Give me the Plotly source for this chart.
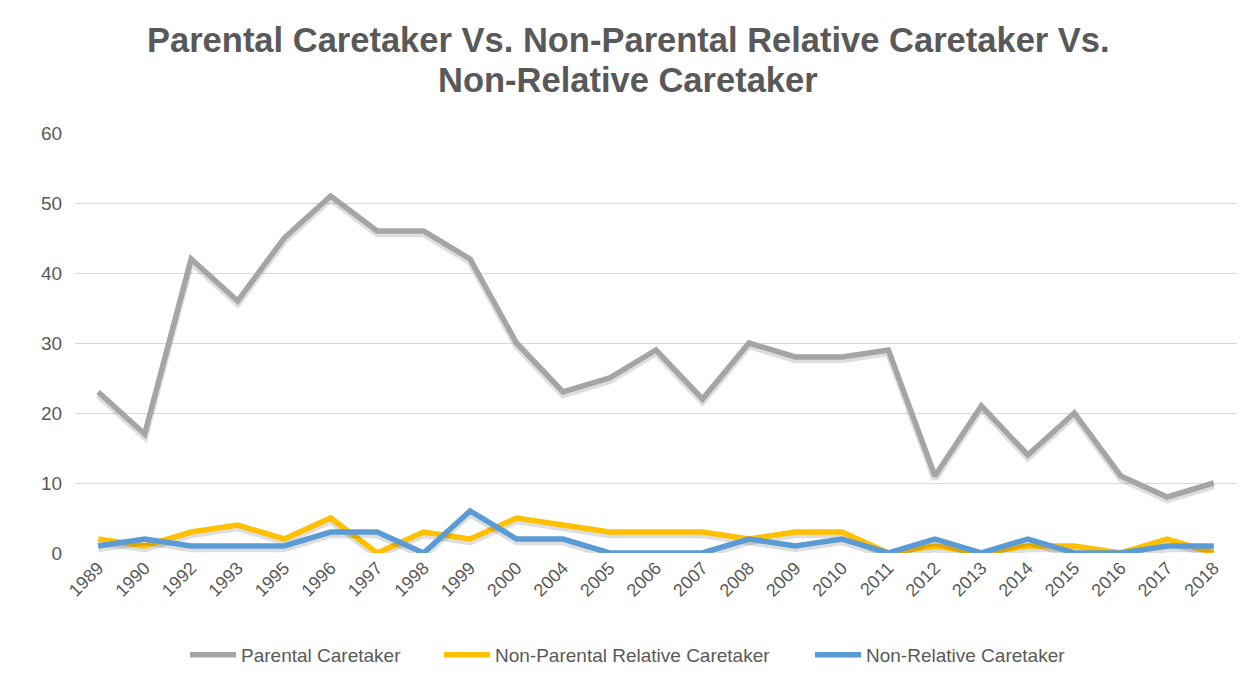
import plotly.graph_objects as go

years = ["1989","1990","1992","1993","1995","1996","1997","1998","1999","2000",
         "2004","2005","2006","2007","2008","2009","2010","2011","2012","2013",
         "2014","2015","2016","2017","2018"]
parental = [23,17,42,36,45,51,46,46,42,30,23,25,29,22,30,28,28,29,11,21,14,20,11,8,10]
non_parental_relative = [2,1,3,4,2,5,0,3,2,5,4,3,3,3,2,3,3,0,1,0,1,1,0,2,0]
non_relative = [1,2,1,1,1,3,3,0,6,2,2,0,0,0,2,1,2,0,2,0,2,0,0,1,1]

series = [
    ("Parental Caretaker", parental, "#A5A5A5", "legend"),
    ("Non-Parental Relative Caretaker", non_parental_relative, "#FFC000", "legend2"),
    ("Non-Relative Caretaker", non_relative, "#5B9BD5", "legend3"),
]

fig = go.Figure()
for name, vals, col, lg in series:
    # soft drop shadow beneath each line
    fig.add_trace(go.Scatter(x=years, y=[v - 0.4 for v in vals], mode="lines",
                             line=dict(color="rgba(0,0,0,0.13)", width=7),
                             showlegend=False, hoverinfo="skip", cliponaxis=False))
    fig.add_trace(go.Scatter(x=years, y=vals, name=name, mode="lines",
                             line=dict(color=col, width=5.5), legend=lg,
                             cliponaxis=False))

W, H = 1247, 680
PL, PW = 75, 1162
def px2paper(px):
    return (px - PL) / PW

leg_common = dict(orientation="h", yref="container", yanchor="middle", y=(H - 655) / H,
                  xanchor="left", font=dict(size=19, color="#595959"), itemwidth=46,
                  bgcolor="rgba(0,0,0,0)", borderwidth=0)

fig.update_layout(
    width=W, height=H,
    paper_bgcolor="white", plot_bgcolor="white",
    margin=dict(l=75, r=10, t=133, b=127),
    font=dict(family="Liberation Sans, Arial, sans-serif", color="#595959"),
    xaxis=dict(type="category", range=[-0.5, 24.5], tickangle=-45, automargin=False,
               tickfont=dict(size=18, color="#595959"),
               showgrid=False, showline=False, ticks="", zeroline=False),
    yaxis=dict(range=[0, 60], dtick=10, tickfont=dict(size=19, color="#595959"), automargin=False,
               gridcolor="#D9D9D9", gridwidth=1.3, zeroline=False, showline=False,
               ticks="outside", ticklen=8, tickcolor="rgba(0,0,0,0)"),
    legend=dict(leg_common, x=px2paper(193 - 8)),
    legend2=dict(leg_common, x=px2paper(447 - 8)),
    legend3=dict(leg_common, x=px2paper(818 - 8)),
    showlegend=True,
    annotations=[
        dict(text="<b>Parental Caretaker Vs. Non-Parental Relative Caretaker Vs.</b>",
             xref="paper", yref="paper", x=px2paper(628), y=(553 - 40) / 420, xanchor="center",
             yanchor="middle", showarrow=False, font=dict(size=34.5, color="#595959")),
        dict(text="<b>Non-Relative Caretaker</b>",
             xref="paper", yref="paper", x=px2paper(628), y=(553 - 80) / 420, xanchor="center",
             yanchor="middle", showarrow=False, font=dict(size=34.5, color="#595959")),
    ],
)

fig.write_html("out.html", config={"displayModeBar": False},
               post_script="document.body.style.margin='0';")
